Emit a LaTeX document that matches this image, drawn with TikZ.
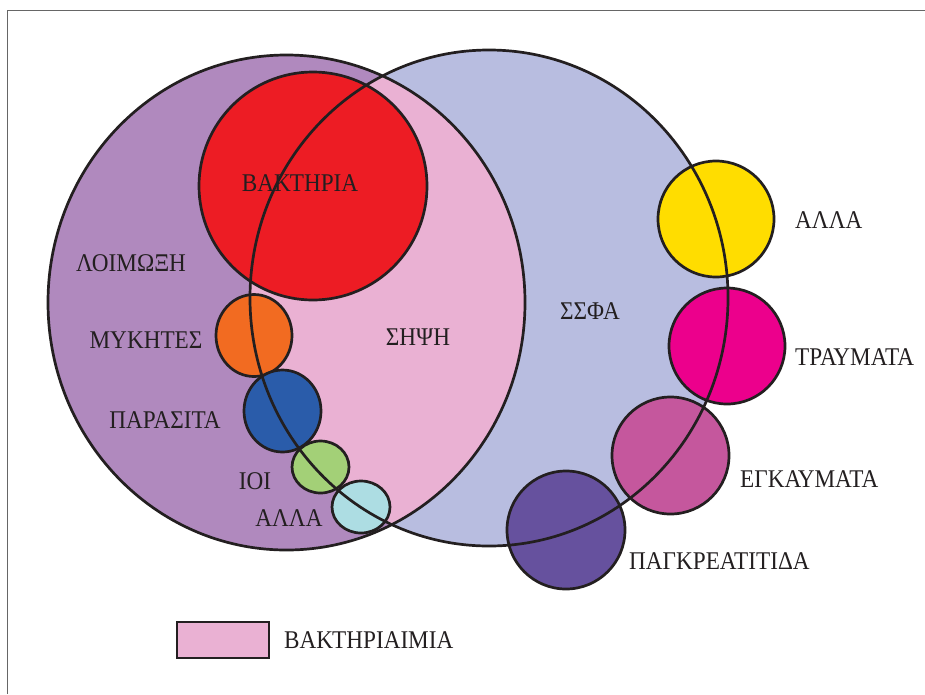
\documentclass[tikz,border=0pt]{standalone}
\usepackage{fontspec}
\usetikzlibrary{shapes.geometric}
\setmainfont[FakeStretch=0.91]{Liberation Serif}
\definecolor{lin}{HTML}{231F20}
\definecolor{cpurple}{HTML}{B089BE}
\definecolor{cblue}{HTML}{B8BDE0}
\definecolor{cpink}{HTML}{EAB1D3}
\definecolor{cred}{HTML}{ED1C24}
\definecolor{corange}{HTML}{F26B21}
\definecolor{cdblue}{HTML}{2A5CAA}
\definecolor{cgreen}{HTML}{A3D077}
\definecolor{ccyan}{HTML}{ADDDE3}
\definecolor{cyellow}{HTML}{FFDD00}
\definecolor{cmagenta}{HTML}{EC008C}
\definecolor{cburn}{HTML}{C5579D}
\definecolor{cpanc}{HTML}{66519E}
\definecolor{frame}{HTML}{666666}
\tikzset{
  outl/.style={draw=lin, line width=2.7pt},
  lbl/.style={text=lin, font=\fontsize{25.5}{28}\selectfont, inner sep=0pt},
}
\begin{document}
\begin{tikzpicture}[x=1pt,y=-1pt]
\useasboundingbox (0,0) rectangle (925,694);
% frame
\draw[frame, line width=1.6pt] (7.5,694) -- (7.5,10.5) -- (925,10.5);
% big fills
\fill[cpurple] (286.5,302.5) ellipse [x radius=238.5pt, y radius=247.5pt];
\fill[cblue] (489,298) ellipse [x radius=239pt, y radius=248pt];
\begin{scope}
  \clip (286.5,302.5) ellipse [x radius=238.5pt, y radius=247.5pt];
  \fill[cpink] (489,298) ellipse [x radius=239pt, y radius=248pt];
\end{scope}
% small circles
\node[outl, fill=cred, circle, minimum size=228pt, inner sep=0pt] (bak) at (313,186) {};
\node[outl, fill=corange, ellipse, minimum width=76pt, minimum height=82pt, inner sep=0pt] (myk) at (254,335.5) {};
\node[outl, fill=cdblue, ellipse, minimum width=77pt, minimum height=82pt, inner sep=0pt] (par) at (282.5,411) {};
\node[outl, fill=cgreen, ellipse, minimum width=57pt, minimum height=52pt, inner sep=0pt] (ioi) at (320.5,467) {};
\node[outl, fill=ccyan, ellipse, minimum width=58pt, minimum height=52pt, inner sep=0pt] (alla1) at (361,507) {};
\node[outl, fill=cyellow, circle, minimum size=116pt, inner sep=0pt] (yel) at (716,219) {};
\node[outl, fill=cmagenta, circle, minimum size=116pt, inner sep=0pt] (tra) at (727,346) {};
\node[outl, fill=cburn, circle, minimum size=117pt, inner sep=0pt] (egk) at (670.5,455.5) {};
\node[outl, fill=cpanc, circle, minimum size=118pt, inner sep=0pt] (pan) at (566,530) {};
% big outlines
\draw[outl] (286.5,302.5) ellipse [x radius=238.5pt, y radius=247.5pt];
\draw[outl] (489,298) ellipse [x radius=239pt, y radius=248pt];
% labels
\node[lbl] (tbak) at (300,183) {ΒΑΚΤΗΡΙΑ};
\node[lbl] (tloi) at (131,263) {ΛΟΙΜΩΞΗ};
\node[lbl] (tmyk) at (146,340) {ΜΥΚΗΤΕΣ};
\node[lbl] (tpar) at (165,420) {ΠΑΡΑΣΙΤΑ};
\node[lbl] (tioi) at (255,481) {ΙΟΙ};
\node[lbl] (talla1) at (289,518) {ΑΛΛΑ};
\node[lbl] (tsip) at (418,337) {ΣΗΨΗ};
\node[lbl] (tssfa) at (590,311) {ΣΣΦΑ};
\node[lbl, anchor=west] (talla2) at (795,220) {ΑΛΛΑ};
\node[lbl, anchor=west] (ttra) at (795,357) {ΤΡΑΥΜΑΤΑ};
\node[lbl, anchor=west] (tegk) at (740,479) {ΕΓΚΑΥΜΑΤΑ};
\node[lbl, anchor=west] (tpan) at (629,561) {ΠΑΓΚΡΕΑΤΙΤΙΔΑ};
% legend
\node[draw=lin, line width=2.7pt, fill=cpink, minimum width=92pt, minimum height=36pt, inner sep=0pt] (leg) at (223,640) {};
\node[lbl, anchor=west] (tleg) at (284,640) {ΒΑΚΤΗΡΙΑΙΜΙΑ};
\end{tikzpicture}
\end{document}
